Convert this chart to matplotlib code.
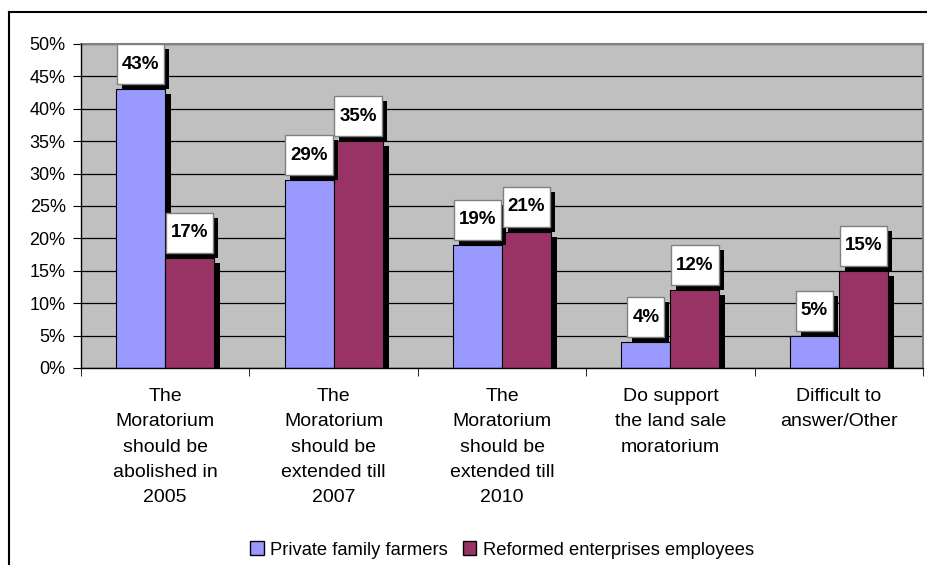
import matplotlib
matplotlib.use("Agg")
import matplotlib.pyplot as plt
from matplotlib.lines import Line2D
from matplotlib.patches import Patch
from matplotlib.path import Path
from matplotlib.transforms import offset_copy
import matplotlib.patheffects as pe
import numpy as np

plt.rcParams['font.family'] = ['Liberation Sans', 'DejaVu Sans']

categories = ["The\nMoratorium\nshould be\nabolished in\n2005",
              "The\nMoratorium\nshould be\nextended till\n2007",
              "The\nMoratorium\nshould be\nextended till\n2010",
              "Do support\nthe land sale\nmoratorium",
              "Difficult to\nanswer/Other"]
series_names = ["Private family farmers", "Reformed enterprises employees"]
farmers = [43, 29, 19, 4, 5]
employees = [17, 35, 21, 12, 15]
y_ticks = [0, 5, 10, 15, 20, 25, 30, 35, 40, 45, 50]

colors = ["#9999FF", "#993366"]

fig = plt.figure(figsize=(9.27, 5.65), dpi=100)
ax = fig.add_axes([81/927, 1-368/565, (923-81)/927, (368-44)/565])
ax.set_facecolor("#C0C0C0")

x = np.arange(len(categories))
w = 0.291
offs = [-w/2, w/2]

def box_style(x0, y0, width, height, mutation_size):
    cx = x0 + width/2
    cy = y0 + height/2
    hw = width/2 + 5
    hh = 20
    verts = [(cx-hw, cy-hh), (cx+hw, cy-hh), (cx+hw, cy+hh), (cx-hw, cy+hh), (cx-hw, cy-hh)]
    return Path(verts, closed=True)

for s, vals in enumerate([farmers, employees]):
    xs = x + offs[s]
    sh_tr = offset_copy(ax.transData, fig=fig, x=6, y=-5, units='dots')
    ax.bar(xs, vals, width=w, color="black", transform=sh_tr, zorder=2)
    ax.bar(xs, vals, width=w, color=colors[s], edgecolor="black", linewidth=0.8,
           zorder=3 + s*0.01, label=series_names[s])

for s, vals in enumerate([farmers, employees]):
    xs = x + offs[s]
    for xi, v in zip(xs, vals):
        t = ax.annotate(f"{v}%", xy=(xi, v), xytext=(0, 25), textcoords='offset pixels',
                        ha='center', va='center', fontsize=13.5, fontweight='bold', color='black',
                        bbox=dict(boxstyle=box_style, fc='white', ec='#808080', lw=1),
                        zorder=6, annotation_clip=False)
        t.get_bbox_patch().set_path_effects([
            pe.SimplePatchShadow(offset=(3.6, -3.6), shadow_rgbFace='black', alpha=1.0),
            pe.Normal()])

ax.set_xlim(-0.5, len(categories)-0.5)
ax.set_ylim(0, 50)
ax.set_yticks(y_ticks)
ax.set_yticklabels([f"{t}%" for t in y_ticks])
ax.yaxis.grid(True, color='black', linewidth=0.9)
ax.set_axisbelow(True)

ax.set_xticks(x)
ax.set_xticklabels(categories, linespacing=1.63)
ax.set_xticks(np.arange(len(categories)+1) - 0.5, minor=True)
ax.tick_params(axis='x', which='major', length=0, pad=14.5, labelsize=14)
ax.tick_params(axis='x', which='minor', length=6, direction='out', color='black')
ax.tick_params(axis='y', length=6, direction='out', pad=5, labelsize=13)

for sp in ['top', 'right']:
    ax.spines[sp].set_color('#808080')
    ax.spines[sp].set_linewidth(1.5)
for sp in ['left', 'bottom']:
    ax.spines[sp].set_color('black')
    ax.spines[sp].set_linewidth(1)
    ax.spines[sp].set_zorder(7)

handles = [Patch(facecolor=colors[i], edgecolor='black', linewidth=1) for i in range(2)]
ax.legend(handles, series_names, loc='center', bbox_to_anchor=(0.5, (368-550)/324),
          ncol=2, frameon=False, fontsize=13.2, handlelength=0.75, handleheight=0.75,
          handletextpad=0.35, columnspacing=0.8, borderaxespad=0)

fig.add_artist(Line2D([9/927, 9/927], [0, 1-12/565], color='black', lw=1.5, transform=fig.transFigure))
fig.add_artist(Line2D([9/927, 1], [1-12/565, 1-12/565], color='black', lw=1.5, transform=fig.transFigure))

fig.savefig("out.png", dpi=100)
